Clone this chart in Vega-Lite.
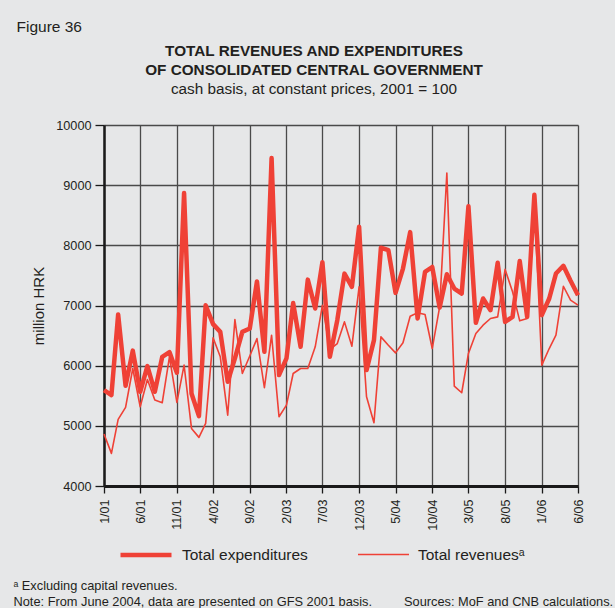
{
  "$schema": "https://vega.github.io/schema/vega-lite/v6.json",
  "width": 474,
  "height": 361,
  "autosize": {"type": "none"},
  "padding": {"left": 104, "top": 125, "right": 37, "bottom": 122},
  "background": "#e6e7e8",
  "config": {
    "font": "Liberation Sans",
    "view": {"stroke": null},
    "axis": {"labelFont": "Liberation Sans", "titleFont": "Liberation Sans", "labelColor": "#231f20", "titleColor": "#231f20"}
  },
  "title": {
    "text": ["TOTAL REVENUES AND EXPENDITURES", "OF CONSOLIDATED CENTRAL GOVERNMENT"],
    "subtitle": "cash basis, at constant prices, 2001 = 100",
    "anchor": "middle",
    "frame": "group",
    "dx": -27,
    "dy": 108,
    "offset": 30,
    "font": "Liberation Sans",
    "fontSize": 15.3,
    "fontWeight": "bold",
    "color": "#231f20",
    "lineHeight": 19,
    "subtitleFont": "Liberation Sans",
    "subtitleFontSize": 15.3,
    "subtitleColor": "#231f20",
    "subtitlePadding": 3
  },
  "data": {"values": [
    {"month": "2001-01-01", "series": "Total expenditures", "value": 5594},
    {"month": "2001-02-01", "series": "Total expenditures", "value": 5511},
    {"month": "2001-03-01", "series": "Total expenditures", "value": 6850},
    {"month": "2001-04-01", "series": "Total expenditures", "value": 5666},
    {"month": "2001-05-01", "series": "Total expenditures", "value": 6250},
    {"month": "2001-06-01", "series": "Total expenditures", "value": 5566},
    {"month": "2001-07-01", "series": "Total expenditures", "value": 5992},
    {"month": "2001-08-01", "series": "Total expenditures", "value": 5566},
    {"month": "2001-09-01", "series": "Total expenditures", "value": 6147},
    {"month": "2001-10-01", "series": "Total expenditures", "value": 6225},
    {"month": "2001-11-01", "series": "Total expenditures", "value": 5882},
    {"month": "2001-12-01", "series": "Total expenditures", "value": 8870},
    {"month": "2002-01-01", "series": "Total expenditures", "value": 5538},
    {"month": "2002-02-01", "series": "Total expenditures", "value": 5162},
    {"month": "2002-03-01", "series": "Total expenditures", "value": 7005},
    {"month": "2002-04-01", "series": "Total expenditures", "value": 6690},
    {"month": "2002-05-01", "series": "Total expenditures", "value": 6562},
    {"month": "2002-06-01", "series": "Total expenditures", "value": 5732},
    {"month": "2002-07-01", "series": "Total expenditures", "value": 6120},
    {"month": "2002-08-01", "series": "Total expenditures", "value": 6562},
    {"month": "2002-09-01", "series": "Total expenditures", "value": 6617},
    {"month": "2002-10-01", "series": "Total expenditures", "value": 7400},
    {"month": "2002-11-01", "series": "Total expenditures", "value": 6230},
    {"month": "2002-12-01", "series": "Total expenditures", "value": 9450},
    {"month": "2003-01-01", "series": "Total expenditures", "value": 5843},
    {"month": "2003-02-01", "series": "Total expenditures", "value": 6120},
    {"month": "2003-03-01", "series": "Total expenditures", "value": 7040},
    {"month": "2003-04-01", "series": "Total expenditures", "value": 6313},
    {"month": "2003-05-01", "series": "Total expenditures", "value": 7430},
    {"month": "2003-06-01", "series": "Total expenditures", "value": 6950},
    {"month": "2003-07-01", "series": "Total expenditures", "value": 7720},
    {"month": "2003-08-01", "series": "Total expenditures", "value": 6147},
    {"month": "2003-09-01", "series": "Total expenditures", "value": 6756},
    {"month": "2003-10-01", "series": "Total expenditures", "value": 7530},
    {"month": "2003-11-01", "series": "Total expenditures", "value": 7310},
    {"month": "2003-12-01", "series": "Total expenditures", "value": 8310},
    {"month": "2004-01-01", "series": "Total expenditures", "value": 5926},
    {"month": "2004-02-01", "series": "Total expenditures", "value": 6424},
    {"month": "2004-03-01", "series": "Total expenditures", "value": 7960},
    {"month": "2004-04-01", "series": "Total expenditures", "value": 7920},
    {"month": "2004-05-01", "series": "Total expenditures", "value": 7210},
    {"month": "2004-06-01", "series": "Total expenditures", "value": 7614},
    {"month": "2004-07-01", "series": "Total expenditures", "value": 8220},
    {"month": "2004-08-01", "series": "Total expenditures", "value": 6784},
    {"month": "2004-09-01", "series": "Total expenditures", "value": 7558},
    {"month": "2004-10-01", "series": "Total expenditures", "value": 7640},
    {"month": "2004-11-01", "series": "Total expenditures", "value": 6966},
    {"month": "2004-12-01", "series": "Total expenditures", "value": 7520},
    {"month": "2005-01-01", "series": "Total expenditures", "value": 7282},
    {"month": "2005-02-01", "series": "Total expenditures", "value": 7199},
    {"month": "2005-03-01", "series": "Total expenditures", "value": 8650},
    {"month": "2005-04-01", "series": "Total expenditures", "value": 6712},
    {"month": "2005-05-01", "series": "Total expenditures", "value": 7116},
    {"month": "2005-06-01", "series": "Total expenditures", "value": 6922},
    {"month": "2005-07-01", "series": "Total expenditures", "value": 7710},
    {"month": "2005-08-01", "series": "Total expenditures", "value": 6728},
    {"month": "2005-09-01", "series": "Total expenditures", "value": 6811},
    {"month": "2005-10-01", "series": "Total expenditures", "value": 7740},
    {"month": "2005-11-01", "series": "Total expenditures", "value": 6811},
    {"month": "2005-12-01", "series": "Total expenditures", "value": 8840},
    {"month": "2006-01-01", "series": "Total expenditures", "value": 6839},
    {"month": "2006-02-01", "series": "Total expenditures", "value": 7116},
    {"month": "2006-03-01", "series": "Total expenditures", "value": 7531},
    {"month": "2006-04-01", "series": "Total expenditures", "value": 7660},
    {"month": "2006-05-01", "series": "Total expenditures", "value": 7410},
    {"month": "2006-06-01", "series": "Total expenditures", "value": 7171},
    {"month": "2001-01-01", "series": "Total revenuesᵃ", "value": 4863},
    {"month": "2001-02-01", "series": "Total revenuesᵃ", "value": 4542},
    {"month": "2001-03-01", "series": "Total revenuesᵃ", "value": 5107},
    {"month": "2001-04-01", "series": "Total revenuesᵃ", "value": 5306},
    {"month": "2001-05-01", "series": "Total revenuesᵃ", "value": 5953},
    {"month": "2001-06-01", "series": "Total revenuesᵃ", "value": 5317},
    {"month": "2001-07-01", "series": "Total revenuesᵃ", "value": 5771},
    {"month": "2001-08-01", "series": "Total revenuesᵃ", "value": 5428},
    {"month": "2001-09-01", "series": "Total revenuesᵃ", "value": 5384},
    {"month": "2001-10-01", "series": "Total revenuesᵃ", "value": 6147},
    {"month": "2001-11-01", "series": "Total revenuesᵃ", "value": 5389},
    {"month": "2001-12-01", "series": "Total revenuesᵃ", "value": 6009},
    {"month": "2002-01-01", "series": "Total revenuesᵃ", "value": 4957},
    {"month": "2002-02-01", "series": "Total revenuesᵃ", "value": 4808},
    {"month": "2002-03-01", "series": "Total revenuesᵃ", "value": 5040},
    {"month": "2002-04-01", "series": "Total revenuesᵃ", "value": 6463},
    {"month": "2002-05-01", "series": "Total revenuesᵃ", "value": 6147},
    {"month": "2002-06-01", "series": "Total revenuesᵃ", "value": 5178},
    {"month": "2002-07-01", "series": "Total revenuesᵃ", "value": 6767},
    {"month": "2002-08-01", "series": "Total revenuesᵃ", "value": 5870},
    {"month": "2002-09-01", "series": "Total revenuesᵃ", "value": 6160},
    {"month": "2002-10-01", "series": "Total revenuesᵃ", "value": 6450},
    {"month": "2002-11-01", "series": "Total revenuesᵃ", "value": 5633},
    {"month": "2002-12-01", "series": "Total revenuesᵃ", "value": 6506},
    {"month": "2003-01-01", "series": "Total revenuesᵃ", "value": 5151},
    {"month": "2003-02-01", "series": "Total revenuesᵃ", "value": 5345},
    {"month": "2003-03-01", "series": "Total revenuesᵃ", "value": 5870},
    {"month": "2003-04-01", "series": "Total revenuesᵃ", "value": 5953},
    {"month": "2003-05-01", "series": "Total revenuesᵃ", "value": 5953},
    {"month": "2003-06-01", "series": "Total revenuesᵃ", "value": 6313},
    {"month": "2003-07-01", "series": "Total revenuesᵃ", "value": 7005},
    {"month": "2003-08-01", "series": "Total revenuesᵃ", "value": 6269},
    {"month": "2003-09-01", "series": "Total revenuesᵃ", "value": 6368},
    {"month": "2003-10-01", "series": "Total revenuesᵃ", "value": 6728},
    {"month": "2003-11-01", "series": "Total revenuesᵃ", "value": 6324},
    {"month": "2003-12-01", "series": "Total revenuesᵃ", "value": 7310},
    {"month": "2004-01-01", "series": "Total revenuesᵃ", "value": 5483},
    {"month": "2004-02-01", "series": "Total revenuesᵃ", "value": 5051},
    {"month": "2004-03-01", "series": "Total revenuesᵃ", "value": 6479},
    {"month": "2004-04-01", "series": "Total revenuesᵃ", "value": 6340},
    {"month": "2004-05-01", "series": "Total revenuesᵃ", "value": 6213},
    {"month": "2004-06-01", "series": "Total revenuesᵃ", "value": 6380},
    {"month": "2004-07-01", "series": "Total revenuesᵃ", "value": 6822},
    {"month": "2004-08-01", "series": "Total revenuesᵃ", "value": 6878},
    {"month": "2004-09-01", "series": "Total revenuesᵃ", "value": 6850},
    {"month": "2004-10-01", "series": "Total revenuesᵃ", "value": 6285},
    {"month": "2004-11-01", "series": "Total revenuesᵃ", "value": 6977},
    {"month": "2004-12-01", "series": "Total revenuesᵃ", "value": 9200},
    {"month": "2005-01-01", "series": "Total revenuesᵃ", "value": 5660},
    {"month": "2005-02-01", "series": "Total revenuesᵃ", "value": 5550},
    {"month": "2005-03-01", "series": "Total revenuesᵃ", "value": 6203},
    {"month": "2005-04-01", "series": "Total revenuesᵃ", "value": 6534},
    {"month": "2005-05-01", "series": "Total revenuesᵃ", "value": 6673},
    {"month": "2005-06-01", "series": "Total revenuesᵃ", "value": 6784},
    {"month": "2005-07-01", "series": "Total revenuesᵃ", "value": 6811},
    {"month": "2005-08-01", "series": "Total revenuesᵃ", "value": 7600},
    {"month": "2005-09-01", "series": "Total revenuesᵃ", "value": 7227},
    {"month": "2005-10-01", "series": "Total revenuesᵃ", "value": 6745},
    {"month": "2005-11-01", "series": "Total revenuesᵃ", "value": 6784},
    {"month": "2005-12-01", "series": "Total revenuesᵃ", "value": 8700},
    {"month": "2006-01-01", "series": "Total revenuesᵃ", "value": 6009},
    {"month": "2006-02-01", "series": "Total revenuesᵃ", "value": 6285},
    {"month": "2006-03-01", "series": "Total revenuesᵃ", "value": 6506},
    {"month": "2006-04-01", "series": "Total revenuesᵃ", "value": 7320},
    {"month": "2006-05-01", "series": "Total revenuesᵃ", "value": 7088},
    {"month": "2006-06-01", "series": "Total revenuesᵃ", "value": 7005}
  ]},
  "encoding": {
    "x": {
      "field": "month", "type": "temporal",
      "scale": {"type": "utc", "domain": [{"year": 2001, "month": 1, "date": 1, "utc": true}, {"year": 2006, "month": 6, "date": 1, "utc": true}]},
      "axis": {
        "values": [
          {"year": 2001, "month": 1, "date": 1, "utc": true},
          {"year": 2001, "month": 6, "date": 1, "utc": true},
          {"year": 2001, "month": 11, "date": 1, "utc": true},
          {"year": 2002, "month": 4, "date": 1, "utc": true},
          {"year": 2002, "month": 9, "date": 1, "utc": true},
          {"year": 2003, "month": 2, "date": 1, "utc": true},
          {"year": 2003, "month": 7, "date": 1, "utc": true},
          {"year": 2003, "month": 12, "date": 1, "utc": true},
          {"year": 2004, "month": 5, "date": 1, "utc": true},
          {"year": 2004, "month": 10, "date": 1, "utc": true},
          {"year": 2005, "month": 3, "date": 1, "utc": true},
          {"year": 2005, "month": 8, "date": 1, "utc": true},
          {"year": 2006, "month": 1, "date": 1, "utc": true},
          {"year": 2006, "month": 6, "date": 1, "utc": true}
        ],
        "format": "%-m/%y",
        "labelAngle": -90,
        "labelAlign": "right",
        "labelBaseline": "middle",
        "labelFontSize": 12.5,
        "labelPadding": 6,
        "labelOverlap": false,
        "grid": true,
        "gridColor": "#4a4a4a",
        "gridWidth": 1.3,
        "domainColor": "#1a1a1a",
        "domainWidth": 2.8,
        "tickColor": "#1a1a1a",
        "tickWidth": 1.3,
        "tickSize": 7,
        "title": ["ᵃ Excluding capital revenues.", "Note: From June 2004, data are presented on GFS 2001 basis.\u2003\u2003\u2002Sources: MoF and CNB calculations."],
        "titleFontSize": 12.8,
        "titleFontWeight": "normal",
        "titleAnchor": "start",
        "titleAlign": "left",
        "titleBaseline": "alphabetic",
        "titleLineHeight": 16,
        "titleX": -91,
        "titleY": 103
      }
    },
    "y": {
      "field": "value", "type": "quantitative",
      "scale": {"domain": [4000, 10000], "nice": false, "zero": false},
      "axis": {
        "values": [4000, 5000, 6000, 7000, 8000, 9000, 10000],
        "format": "d",
        "grid": true,
        "gridColor": "#4a4a4a",
        "gridWidth": 1.3,
        "domainColor": "#1a1a1a",
        "domainWidth": 2.5,
        "tickColor": "#1a1a1a",
        "tickWidth": 1.3,
        "tickSize": 9,
        "labelFontSize": 12.7,
        "labelPadding": 4,
        "title": "million HRK",
        "titleFontSize": 15,
        "titleFontWeight": "normal",
        "titlePadding": 9
      }
    },
    "color": {
      "field": "series", "type": "nominal",
      "scale": {"domain": ["Total expenditures", "Total revenuesᵃ"], "range": ["#ef4136", "#ef4136"]},
      "legend": {"orient": "none", "legendX": 14, "legendY": 402, "direction": "horizontal", "symbolType": "stroke", "symbolSize": 2601, "labelFontSize": 15.5, "labelColor": "#231f20", "labelFont": "Liberation Sans", "labelOffset": 8, "columnPadding": 46, "title": null}
    },
    "strokeWidth": {
      "field": "series", "type": "nominal",
      "scale": {"domain": ["Total expenditures", "Total revenuesᵃ"], "range": [4.5, 1.6]},
      "legend": {"orient": "none", "legendX": 14, "legendY": 402, "direction": "horizontal", "symbolType": "stroke", "symbolSize": 2601, "labelFontSize": 15.5, "labelColor": "#231f20", "labelFont": "Liberation Sans", "labelOffset": 8, "columnPadding": 46, "title": null}
    }
  },
  "layer": [
    {
      "transform": [{"filter": "datum.series === 'Total expenditures'"}],
      "mark": {"type": "line", "strokeJoin": "round"}
    },
    {
      "transform": [{"filter": "datum.series !== 'Total expenditures'"}],
      "mark": {"type": "line", "strokeJoin": "round"},
      "encoding": {
        "y": {
          "field": "value", "type": "quantitative",
          "scale": {"domain": [4000, 10000], "nice": false, "zero": false},
          "axis": {
            "orient": "right",
            "grid": false, "labels": false, "ticks": false, "domain": false,
            "title": "Figure 36",
            "titleAngle": 0,
            "titleX": -562,
            "titleY": -94,
            "titleAlign": "left",
            "titleBaseline": "alphabetic",
            "titleFontSize": 15.5,
            "titleFontWeight": "normal"
          }
        }
      }
    }
  ],
  "resolve": {"axis": {"y": "independent"}}
}
